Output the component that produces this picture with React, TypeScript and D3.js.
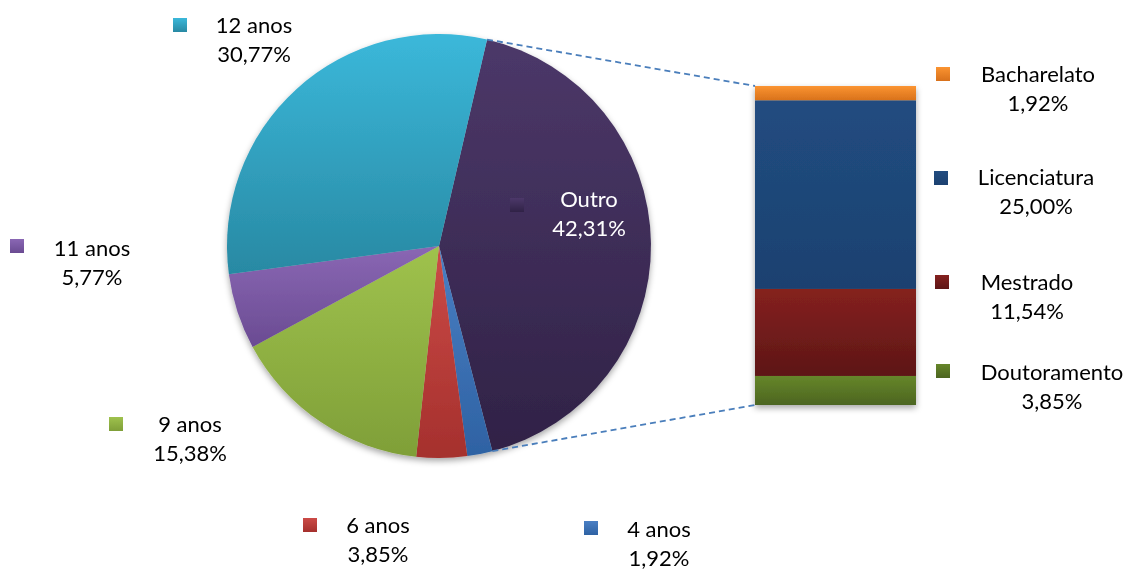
import React from "react";
import * as d3 from "d3";

const pieLabels = ["Outro", "4 anos", "6 anos", "9 anos", "11 anos", "12 anos"];
const pieValues = [42.31, 1.92, 3.85, 15.38, 5.77, 30.77];
const pieValueText = ["42,31%", "1,92%", "3,85%", "15,38%", "5,77%", "30,77%"];
const barLabels = ["Bacharelato", "Licenciatura", "Mestrado", "Doutoramento"];
const barValues = [1.92, 25.0, 11.54, 3.85];
const barValueText = ["1,92%", "25,00%", "11,54%", "3,85%"];

const pieColors = [
  ["#4c3869", "#302246"],
  ["#4a7fc4", "#2e62a3"],
  ["#cc4b47", "#a5302d"],
  ["#9fc24d", "#7f9f38"],
  ["#8a67b4", "#6a4b92"],
  ["#3bb8da", "#2889a3"],
];
const barColors = [
  ["#fb9431", "#d8711b"],
  ["#214c80", "#1c4170"],
  ["#85211f", "#5d1616"],
  ["#66862a", "#4c6520"],
];

// layout of labels: [squareX, squareY, textCenterX, baseline1]
const pieLabelLayout = [
  [510, 198, 589, 207],
  [584, 521, 659, 537],
  [303, 518, 378, 533],
  [109, 417, 190, 432],
  [10, 239, 92, 256],
  [173, 18, 254, 33],
];
const barLabelLayout = [
  [936, 67, 1038, 82],
  [934, 171, 1036, 185],
  [935, 275, 1027, 290],
  [936, 364, 1052, 380],
];

export default function App() {
  const cx = 439, cy = 246, r = 212;
  const start = (13.1 * Math.PI) / 180;
  const pie = d3
    .pie<number>()
    .sort(null)
    .value((d) => d)
    .startAngle(start)
    .endAngle(start + 2 * Math.PI);
  const arcs = pie(pieValues);
  const arcGen = d3.arc<d3.PieArcDatum<number>>().innerRadius(0).outerRadius(r);

  const barTotal = d3.sum(barValues);
  const y = d3.scaleLinear().domain([0, barTotal]).range([86, 405]);
  const x = d3.scaleBand().domain(["bar"]).range([755, 916]).padding(0);
  let acc = 0;
  const segs = barValues.map((v, i) => {
    const s = { i, y0: y(acc), y1: y(acc + v) };
    acc += v;
    return s;
  });

  const outro = arcs[0];
  const p1 = [cx + r * Math.sin(outro.startAngle), cy - r * Math.cos(outro.startAngle)];
  const p2 = [cx + r * Math.sin(outro.endAngle), cy - r * Math.cos(outro.endAngle)];

  const font = "Lato, 'Open Sans', sans-serif";
  const fs = 22;

  return (
    <svg width={1127} height={570} style={{ position: "absolute", left: 0, top: 0, background: "#fff" }}>
      <defs>
        {pieColors.map((c, i) => (
          <linearGradient key={i} id={`pg${i}`} x1="0" y1="0" x2="0" y2="1">
            <stop offset="0" stopColor={c[0]} />
            <stop offset="1" stopColor={c[1]} />
          </linearGradient>
        ))}
        {barColors.map((c, i) => (
          <linearGradient key={i} id={`bg${i}`} x1="0" y1="0" x2="0" y2="1">
            <stop offset="0" stopColor={c[0]} />
            <stop offset="1" stopColor={c[1]} />
          </linearGradient>
        ))}
        <filter id="sh" x="-10%" y="-10%" width="120%" height="125%">
          <feDropShadow dx="0" dy="3" stdDeviation="3" floodColor="#000" floodOpacity="0.35" />
        </filter>
      </defs>
      <g filter="url(#sh)">
        {arcs.map((a, i) => (
          <path key={i} d={arcGen(a) || ""} transform={`translate(${cx},${cy})`} fill={`url(#pg${i})`} />
        ))}
      </g>
      <g filter="url(#sh)">
        {segs.map((s) => (
          <rect key={s.i} x={x("bar")} y={s.y0} width={x.bandwidth()} height={s.y1 - s.y0} fill={`url(#bg${s.i})`} />
        ))}
      </g>
      <line x1={p1[0]} y1={p1[1]} x2={x("bar")} y2={y(0)} stroke="#4a7ebb" strokeWidth={1.8} strokeDasharray="6,4" />
      <line x1={p2[0]} y1={p2[1]} x2={x("bar")} y2={y(barTotal)} stroke="#4a7ebb" strokeWidth={1.8} strokeDasharray="6,4" />

      {pieLabels.map((l, i) => {
        const [sx, sy, tx, by] = pieLabelLayout[i];
        const col = i === 0 ? "#fff" : "#000";
        return (
          <g key={l}>
            <rect x={sx} y={sy} width={14} height={14} fill={`url(#pg${i})`} />
            <text x={tx} y={by} textAnchor="middle" fontFamily={font} fontSize={fs} fill={col}>{l}</text>
            <text x={tx} y={by + 29} textAnchor="middle" fontFamily={font} fontSize={fs} fill={col}>{pieValueText[i]}</text>
          </g>
        );
      })}
      {barLabels.map((l, i) => {
        const [sx, sy, tx, by] = barLabelLayout[i];
        return (
          <g key={l}>
            <rect x={sx} y={sy} width={14} height={14} fill={`url(#bg${i})`} />
            <text x={tx} y={by} textAnchor="middle" fontFamily={font} fontSize={fs} fill="#000">{l}</text>
            <text x={tx} y={by + 29} textAnchor="middle" fontFamily={font} fontSize={fs} fill="#000">{barValueText[i]}</text>
          </g>
        );
      })}
    </svg>
  );
}
